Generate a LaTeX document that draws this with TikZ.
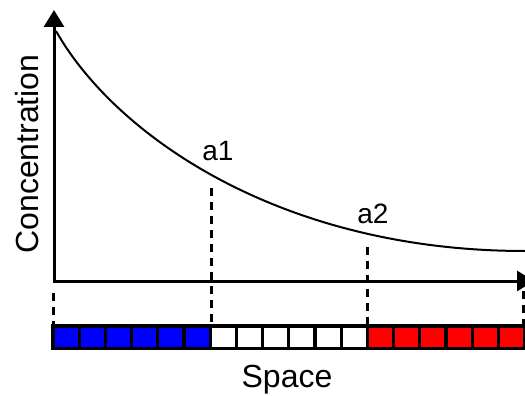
\documentclass[tikz,border=0pt]{standalone}
\usepackage{fontspec}
\setmainfont{Liberation Sans}
\usetikzlibrary{arrows.meta}
\begin{document}
\begin{tikzpicture}[x=1pt,y=-1pt,
  axis/.style={line width=3pt,{Triangle[width=20pt,length=17pt]}-{Triangle[width=20pt,length=17pt]}},
  curve/.style={line width=2pt},
  guide/.style={line width=3pt,dash pattern=on 8pt off 6pt},
  cell/.style={draw=black,line width=3.3pt},
  lbl/.style={font=\fontsize{32}{32}\selectfont,inner sep=0pt},
  ptlbl/.style={font=\fontsize{28}{28}\selectfont,inner sep=0pt}]
\useasboundingbox (0,0) rectangle (525,396);
% axes
\coordinate (ytip) at (54,10);
\coordinate (O) at (54,281);
\coordinate (xtip) at (534,281);
\draw[axis] (ytip) -- (O) -- (xtip);
% curve
\coordinate (c0) at (56,31);
\coordinate (c3) at (525,251);
\draw[curve] (c0) .. controls (115,135) and (280,251) .. (c3);
% strip
\foreach \i in {0,...,5}
  \draw[cell,fill=blue] ({53+26.2*\i},326) rectangle ++(26.2,22.7);
\foreach \i in {6,...,11}
  \draw[cell,fill=white] ({53+26.2*\i},326) rectangle ++(26.2,22.7);
\foreach \i in {12,...,17}
  \draw[cell,fill=red] ({53+26.2*\i},326) rectangle ++(26.2,22.7);
% dashed guides
\coordinate (g0t) at (53,293); \coordinate (g0b) at (53,324.5);
\coordinate (g1t) at (211,188); \coordinate (g1b) at (211,324.5);
\coordinate (g2t) at (367,247); \coordinate (g2b) at (367,324.5);
\coordinate (g3t) at (523,291); \coordinate (g3b) at (523,324.5);
\draw[guide] (g0t) -- (g0b);
\draw[guide] (g1t) -- (g1b);
\draw[guide] (g2t) -- (g2b);
\draw[guide] (g3t) -- (g3b);
% labels
\node[lbl,rotate=90,anchor=base] (ylab) at (38,154) {Concentration};
\node[lbl,anchor=base] (xlab) at (287,387) {Space};
\node[ptlbl,anchor=base] (a1) at (218,160) {a1};
\node[ptlbl,anchor=base] (a2) at (373,223) {a2};
\end{tikzpicture}
\end{document}
